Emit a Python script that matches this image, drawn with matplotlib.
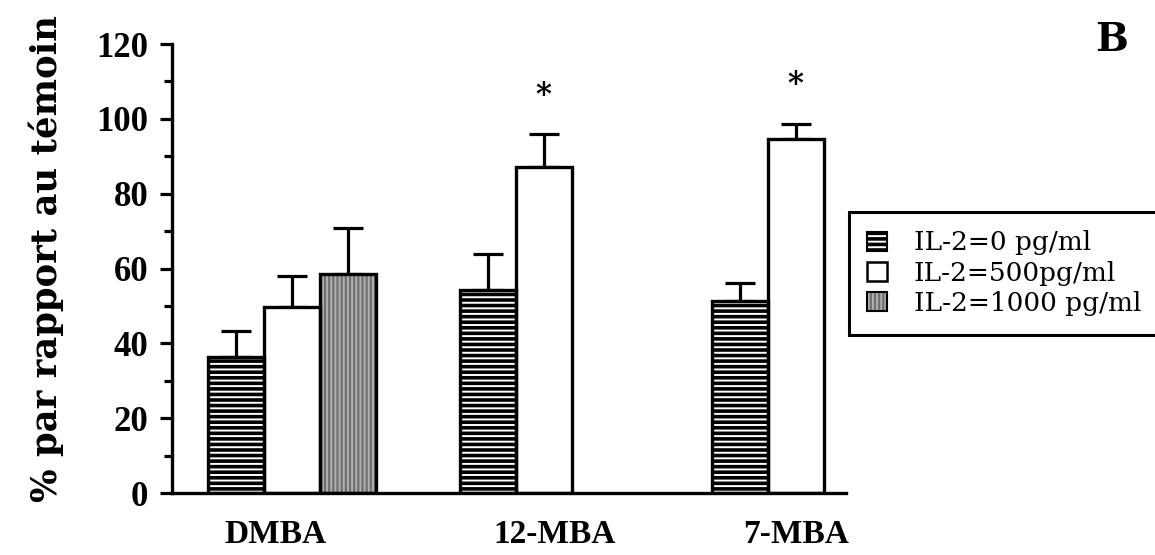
import matplotlib
matplotlib.use('Agg')
import numpy as np
import matplotlib.pyplot as plt
from matplotlib.patches import Patch

# --- police : serif gras façon figure scannée ---
plt.rcParams['font.family'] = ['Liberation Serif', 'DejaVu Serif']
plt.rcParams['hatch.linewidth'] = 1.4

# --- données ---
CATEGORIES = ['DMBA', '12-MBA', '7-MBA']
SERIES = ['IL-2=0 pg/ml', 'IL-2=500pg/ml', 'IL-2=1000 pg/ml']
VAL_0 = [36.3, 54.3, 51.2]
ERR_0 = [6.9, 9.7, 4.8]
VAL_500 = [49.6, 87.2, 94.7]
ERR_500 = [8.4, 8.7, 4.0]
VAL_1000 = [58.5, np.nan, np.nan]
ERR_1000 = [12.2, np.nan, np.nan]
SIGNIF_500 = [False, True, True]
Y_TICKS = [0, 20, 40, 60, 80, 100, 120]

# --- mise en page ---
GROUP_STEP = 4.5
BAR_W = 1.0
LABEL_SHIFT = [-0.3, 0.2, 0.0]
STYLES = [
    dict(facecolor='black', edgecolor='white', hatch='---'),
    dict(facecolor='white', edgecolor='black', hatch=None),
    dict(facecolor='#6f6f6f', edgecolor='#b0b0b0', hatch='||||'),
]

fig = plt.figure(figsize=(11.55, 5.55), dpi=100)
ax = fig.add_axes([172 / 1155, 62 / 555, 674 / 1155, 449 / 555])

groups = np.arange(len(CATEGORIES)) * GROUP_STEP
all_vals = [VAL_0, VAL_500, VAL_1000]
all_errs = [ERR_0, ERR_500, ERR_1000]

for j, (vals, errs, st) in enumerate(zip(all_vals, all_errs, STYLES)):
    x = groups + j * BAR_W + BAR_W / 2
    vals = np.array(vals, dtype=float)
    errs = np.array(errs, dtype=float)
    ok = ~np.isnan(vals)
    ax.bar(x[ok], vals[ok], width=BAR_W, linewidth=0, zorder=2, **st)
    ax.bar(x[ok], vals[ok], width=BAR_W, fill=False, edgecolor='black',
           linewidth=2.4, zorder=3)
    ax.errorbar(x[ok], vals[ok], yerr=[np.zeros(ok.sum()), errs[ok]], fmt='none',
                ecolor='black', elinewidth=2.3, capsize=11, capthick=2.3, zorder=1)

# astérisques (différence significative)
x500 = groups + BAR_W + BAR_W / 2
for xi, v, e, sig in zip(x500, VAL_500, ERR_500, SIGNIF_500):
    if sig:
        ax.annotate('*', (xi, v + e), xytext=(0, 28), textcoords='offset points',
                    ha='center', va='center', fontsize=22, fontweight='bold',
                    family='DejaVu Serif')

ax.set_xlim(-0.64, 11.4)
ax.set_ylim(0, 120)
ax.set_yticks(Y_TICKS)
ax.set_yticks(np.arange(10, 120, 20), minor=True)
ax.set_xticks(groups + 1.5 * BAR_W + np.array(LABEL_SHIFT))
ax.set_xticklabels(CATEGORIES, fontsize=24, fontweight='bold')
ax.tick_params(axis='x', length=0, pad=19)
ax.tick_params(axis='y', which='major', length=9, width=2.3, labelsize=25, pad=8)
ax.tick_params(axis='y', which='minor', length=6, width=2.3)
for lab in ax.get_yticklabels():
    lab.set_fontweight('bold')

for s in ['top', 'right']:
    ax.spines[s].set_visible(False)
for s in ['left', 'bottom']:
    ax.spines[s].set_linewidth(2.4)

fig.text(46 / 1155, 0.535, '% par rapport au témoin', rotation=90, ha='center',
         va='center', fontsize=25.5, fontweight='bold', family='DejaVu Serif')
fig.text(1112 / 1155, 0.928, 'B', ha='center', va='center', fontsize=28,
         fontweight='bold', family='DejaVu Serif')

outline = Patch(facecolor='none', edgecolor='black', linewidth=1.5)
handles = [(Patch(linewidth=0, **STYLES[0]), outline),
           Patch(facecolor='white', edgecolor='black', linewidth=1.8),
           (Patch(linewidth=0, **STYLES[2]), outline)]
leg = fig.legend(handles, SERIES, loc='upper left', bbox_to_anchor=(849 / 1155, 1 - 212 / 555),
                 prop={'family': 'DejaVu Serif', 'size': 19}, frameon=True,
                 framealpha=1, fancybox=False, handlelength=0.75, handleheight=0.75,
                 handletextpad=1.0, labelspacing=0.2, borderpad=0.7, borderaxespad=0)
leg.get_frame().set_edgecolor('black')
leg.get_frame().set_linewidth(2.2)

fig.savefig('out.png', dpi=100)
